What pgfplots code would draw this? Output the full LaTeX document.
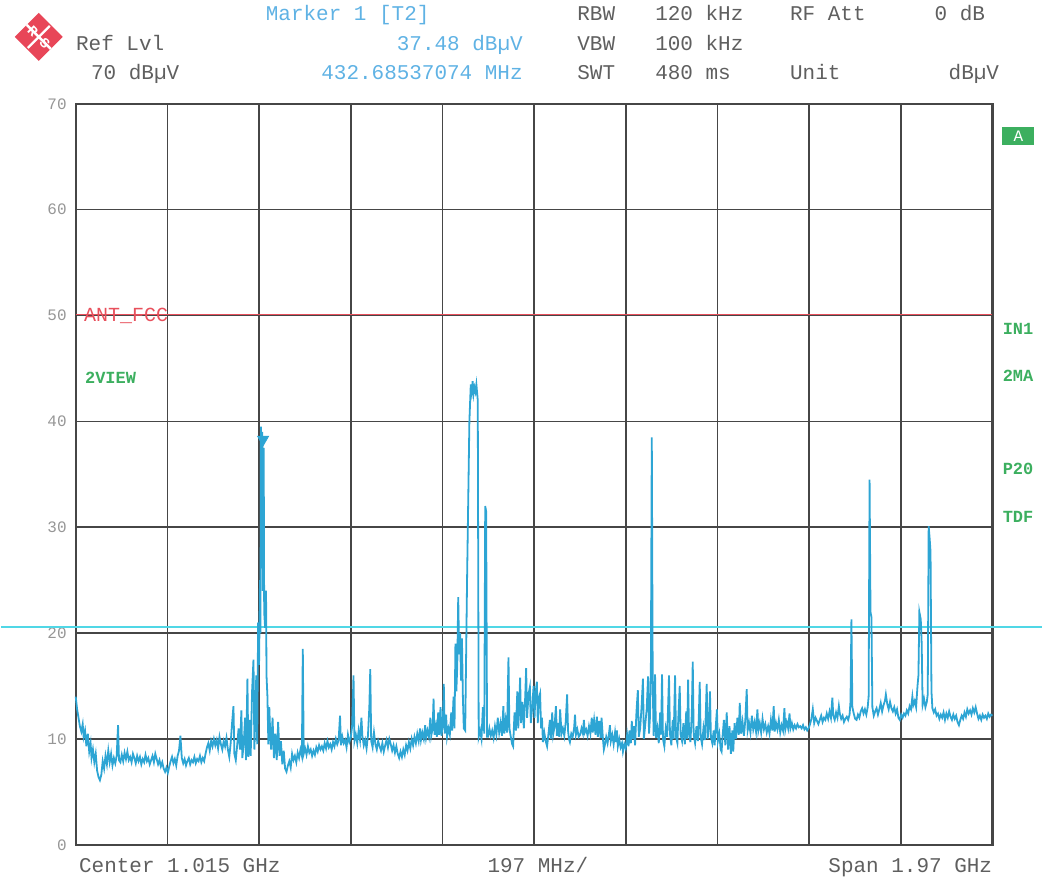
\documentclass[border=0pt]{standalone}
\usepackage{fontspec}
\setmainfont{Liberation Mono}
\usepackage{pgfplots}
\pgfplotsset{compat=1.18}

\definecolor{trace}{RGB}{45,165,212}
\definecolor{cyanline}{RGB}{80,215,230}
\definecolor{limitred}{RGB}{232,80,92}
\definecolor{gridgray}{RGB}{70,70,70}
\definecolor{labgray}{RGB}{95,95,95}
\definecolor{tickgray}{RGB}{150,150,150}
\definecolor{mkblue}{RGB}{95,178,228}
\definecolor{rsgreen}{RGB}{60,175,95}
\definecolor{rsred}{RGB}{232,70,88}

\begin{document}
\begin{tikzpicture}
\path (0,0) rectangle (521.5pt,441.5pt);

\begin{axis}[
set layers,
at={(37.5pt,18.5pt)}, anchor=south west,
width=459pt, height=371pt, scale only axis,
xmin=30, xmax=2000, ymin=0, ymax=70,
xtick={30,227,424,621,818,1015,1212,1409,1606,1803,2000},
xticklabels={},
ytick={0,10,20,30,40,50,60,70},
grid=major,
major grid style={gridgray, line width=0.8pt},
axis line style={gridgray, line width=1.1pt},
tick style={draw=none},
yticklabel style={font=\fontsize{8}{9}\selectfont, text=tickgray, xshift=-1pt},
/pgf/number format/assume math mode=true,
clip=false
]
% limit line
\addplot [limitred, line width=0.9pt] coordinates {(30,50.1) (2000,50.1)};
% display line
\addplot [cyanline, line width=0.8pt] coordinates {(-131,20.6) (2107,20.6)};
% trace
\addplot [trace, line width=0.9pt] table {
30 14.0
33 12.8
36 12.0
39 11.2
42 10.7
45 11.4
47 10.2
50 10.8
53 9.3
56 10.5
59 8.8
62 9.6
64 8.2
67 9.0
70 7.8
73 8.6
76 7.0
79 6.4
82 6.1
85 6.6
88 7.9
91 7.2
94 8.4
97 7.6
100 8.9
103 7.8
106 8.6
109 7.5
112 8.2
115 7.7
118 8.4
121 11.3
123 8.0
126 7.8
129 8.5
132 7.9
135 8.7
138 8.1
141 8.8
144 8.0
147 8.3
150 7.8
153 8.6
156 8.2
159 7.7
162 8.4
165 7.9
168 8.3
171 7.6
174 8.1
177 7.8
180 8.5
183 7.9
186 8.2
189 7.6
192 8.0
195 8.4
198 7.8
201 8.6
204 8.1
207 7.6
210 8.0
213 7.4
216 7.8
219 7.2
222 6.9
225 7.3
228 6.8
231 7.4
234 7.9
237 8.3
240 7.7
243 8.1
246 7.5
249 8.4
252 8.9
255 10.3
258 8.2
261 7.7
264 8.1
267 7.5
270 7.9
273 8.2
276 7.6
279 8.0
282 7.8
285 8.3
288 7.7
291 8.1
294 7.9
297 8.4
300 7.8
303 8.2
306 7.9
309 8.6
312 9.2
315 9.6
318 8.9
321 9.8
324 9.3
327 10.0
330 9.4
333 9.9
336 9.1
339 10.2
342 9.5
345 9.0
348 9.8
351 9.3
354 10.1
357 9.0
360 8.3
363 9.6
366 11.5
369 13.1
371 8.6
374 8.0
377 9.4
380 11.0
383 9.0
386 12.7
388 8.2
391 9.5
394 12.0
396 8.0
399 15.7
401 8.3
404 11.8
406 8.4
409 14.5
412 17.5
414 9.0
416 12.5
418 16.0
420 9.5
422 21.0
424 17.0
426 25.0
427 20.0
428 39.5
429 30.0
431 39.0
432 24.0
434 37.5
435 22.0
437 20.5
439 24.0
440 16.0
442 14.0
444 9.5
446 13.0
448 10.5
450 9.0
453 12.0
456 8.2
459 10.5
462 8.0
465 11.6
468 8.4
471 9.8
474 7.6
477 8.9
480 7.2
483 6.9
486 7.5
489 7.9
492 7.3
495 8.6
498 8.0
501 8.4
504 7.8
507 8.7
510 8.2
513 9.0
516 8.4
518 18.5
520 8.6
523 9.1
526 8.5
529 9.3
532 8.7
535 9.0
538 8.4
541 8.9
544 8.5
547 9.2
550 8.8
553 9.4
556 9.0
559 9.3
562 8.9
565 9.6
568 9.1
571 9.8
574 9.2
577 9.5
580 9.0
583 9.7
586 9.3
589 10.0
592 9.5
595 9.9
598 12.2
600 9.4
603 10.2
606 9.6
609 9.9
612 9.2
615 10.4
618 9.7
621 10.1
624 11.2
627 16.0
629 9.8
632 10.4
635 9.6
638 10.8
641 9.9
644 12.0
646 10.3
649 9.4
652 9.9
655 9.1
658 10.3
661 13.0
663 16.6
665 9.8
668 9.2
671 10.6
674 9.5
677 9.0
680 9.8
683 9.3
686 8.9
689 9.6
692 8.8
695 9.4
698 9.9
701 9.2
704 10.0
707 9.5
710 8.9
713 9.4
716 8.7
719 9.3
722 8.6
725 8.2
728 8.8
731 8.3
734 9.0
737 8.5
740 9.4
743 8.9
746 9.7
749 9.1
752 10.0
755 9.4
758 10.2
761 9.6
764 10.5
767 9.8
770 11.0
772 9.9
775 10.6
778 10.0
781 11.3
783 10.1
786 10.8
789 10.2
792 12.0
794 10.3
797 11.0
799 13.8
801 10.4
804 11.2
806 10.2
809 12.5
811 10.4
814 13.0
816 10.3
819 11.5
821 15.2
823 10.5
826 12.3
828 10.2
831 11.0
834 10.4
837 12.5
839 10.8
842 14.0
844 11.0
846 19.0
848 14.5
850 17.0
852 23.4
854 18.0
856 20.0
858 15.5
860 19.5
862 14.0
864 11.0
867 10.8
871 25.0
876 40.0
879 43.5
881 42.8
883 43.8
885 42.6
887 43.2
889 42.8
891 43.5
894 42.0
896 10.2
899 10.8
902 10.0
905 13.0
908 10.5
910 32.0
912 31.5
914 10.2
916 10.2
919 11.0
922 10.3
925 10.8
928 10.1
931 11.2
934 10.4
937 12.0
940 10.6
943 11.5
946 10.3
949 13.1
951 10.5
954 11.8
957 10.6
960 17.7
962 11.0
965 10.2
968 9.5
970 9.3
973 12.5
976 10.8
979 14.5
981 11.0
983 13.0
985 15.8
987 11.5
990 13.5
993 11.0
996 14.0
998 16.7
1000 12.0
1003 14.2
1006 14.9
1008 11.5
1011 13.0
1014 15.0
1016 12.0
1018 14.2
1021 15.4
1023 11.5
1025 13.8
1028 14.3
1030 11.0
1032 12.0
1034 9.7
1037 10.6
1040 9.8
1043 9.3
1046 10.5
1049 11.8
1051 10.0
1054 12.5
1056 10.4
1059 11.2
1062 13.1
1064 10.3
1067 11.5
1069 10.2
1071 12.8
1074 10.5
1077 11.0
1080 10.3
1083 11.6
1086 14.2
1088 10.8
1090 10.0
1092 9.7
1095 10.5
1098 10.2
1101 11.0
1103 12.3
1105 10.4
1108 10.9
1111 10.2
1114 10.4
1117 11.0
1120 10.5
1122 11.8
1124 10.6
1127 10.9
1130 10.3
1133 11.2
1136 10.5
1139 12.0
1141 10.6
1144 11.8
1147 10.4
1150 12.1
1152 10.2
1155 11.7
1158 10.1
1160 12.0
1163 10.0
1165 9.0
1167 9.4
1170 10.2
1173 9.6
1176 10.5
1178 11.3
1180 9.8
1183 10.4
1186 9.5
1189 10.6
1191 9.7
1193 10.8
1195 9.3
1198 10.0
1201 9.2
1204 9.6
1206 8.8
1209 9.5
1212 9.1
1215 10.4
1218 9.3
1220 10.8
1223 9.6
1225 11.7
1227 10.0
1230 11.2
1232 9.4
1235 12.5
1238 14.6
1240 10.2
1243 11.0
1246 13.0
1249 15.7
1251 10.0
1254 11.4
1257 12.8
1260 15.9
1262 10.5
1264 12.0
1266 16.5
1268 38.5
1270 15.0
1272 10.3
1275 16.1
1277 10.1
1280 11.0
1283 9.6
1286 12.5
1288 10.4
1290 16.1
1292 10.0
1295 9.3
1298 11.0
1301 10.2
1303 13.0
1305 16.0
1307 10.5
1310 9.4
1313 11.8
1315 10.0
1318 16.0
1320 10.2
1323 9.6
1325 12.0
1328 15.0
1330 10.4
1333 9.8
1336 11.5
1339 9.5
1342 12.6
1344 10.0
1346 15.6
1348 10.6
1351 9.7
1354 12.4
1356 17.3
1358 10.4
1361 9.6
1364 11.2
1367 9.8
1369 12.0
1371 15.4
1373 10.2
1376 9.5
1379 11.0
1382 9.9
1384 12.3
1386 15.2
1388 10.0
1391 11.3
1393 14.5
1395 10.2
1398 9.6
1401 10.8
1403 9.4
1406 11.5
1408 12.8
1410 9.8
1413 10.5
1416 9.0
1418 8.8
1420 10.2
1423 11.8
1426 9.4
1429 12.5
1432 9.0
1435 11.2
1438 8.6
1441 10.8
1443 8.8
1446 11.5
1449 10.0
1452 12.0
1455 10.4
1457 13.4
1460 10.5
1463 11.6
1466 10.3
1469 11.8
1472 14.7
1474 10.8
1477 11.5
1480 10.6
1483 12.2
1486 10.9
1489 11.6
1492 10.7
1495 12.8
1497 10.8
1500 11.5
1503 10.6
1506 11.9
1509 10.9
1512 11.4
1515 10.6
1518 11.2
1521 10.5
1524 11.8
1527 10.8
1530 13.1
1532 10.7
1535 11.5
1538 10.9
1541 11.8
1544 10.6
1547 11.3
1550 10.8
1553 12.9
1555 10.9
1558 11.6
1561 11.0
1564 12.4
1566 11.0
1569 11.5
1572 10.9
1575 11.3
1578 11.0
1581 11.4
1584 11.1
1587 11.2
1590 11.0
1593 11.3
1596 10.9
1599 11.1
1602 10.8
1605 11.0
1608 11.4
1611 11.9
1614 12.8
1617 11.5
1620 12.0
1623 11.7
1626 11.4
1629 11.8
1632 12.2
1635 11.6
1638 12.0
1641 11.8
1644 12.4
1647 11.9
1650 12.6
1653 12.0
1656 13.9
1658 12.2
1661 11.8
1664 12.5
1667 12.0
1670 13.1
1672 12.4
1675 11.9
1678 12.2
1681 11.6
1684 11.9
1687 12.1
1690 11.8
1693 12.3
1695 13.5
1697 21.3
1699 13.0
1702 12.4
1705 11.9
1708 11.8
1711 12.3
1714 12.0
1717 12.6
1720 12.9
1723 12.4
1726 12.8
1729 12.3
1732 13.0
1734 14.0
1736 34.5
1738 22.0
1740 21.5
1742 13.0
1745 12.2
1748 12.6
1751 12.9
1754 12.3
1757 12.8
1760 13.4
1763 12.6
1766 13.2
1769 13.6
1771 14.2
1774 13.3
1777 12.8
1780 13.5
1783 12.9
1786 12.6
1789 13.0
1792 12.4
1795 12.8
1798 12.0
1801 11.8
1804 12.3
1807 12.0
1810 12.4
1813 12.2
1816 12.7
1819 12.4
1822 13.1
1825 12.8
1828 14.0
1830 13.2
1833 13.6
1836 13.0
1839 15.0
1841 16.0
1843 22.0
1846 21.3
1848 19.0
1850 13.2
1853 13.8
1856 13.0
1859 13.5
1861 14.2
1863 30.1
1865 29.0
1867 27.7
1869 14.5
1871 12.9
1874 12.5
1877 12.8
1880 12.2
1883 12.4
1886 11.9
1889 12.3
1892 12.0
1895 12.5
1898 11.8
1901 12.4
1904 12.0
1907 12.6
1910 12.1
1913 11.8
1916 12.3
1919 11.9
1922 12.2
1925 11.6
1928 11.3
1931 11.8
1934 12.2
1937 11.9
1940 12.5
1943 12.1
1946 12.8
1949 12.4
1952 12.7
1955 12.3
1958 12.9
1961 12.5
1964 13.0
1967 12.4
1970 11.9
1973 12.2
1976 11.8
1979 12.3
1982 12.0
1985 12.2
1988 11.9
1991 12.4
1994 12.1
1997 12.3
2000 12.2
};
% marker 1
\addplot [only marks, mark=triangle*, mark size=3.2pt, color=trace,
  mark options={rotate=180}] coordinates {(432.685,38.3)};
\end{axis}

% annotations in pixel units (origin top left)
\begin{scope}[x=0.5pt, y=-0.5pt, shift={(0pt,441.5pt)},
  every node/.style={font=\fontsize{10.5}{12}\selectfont, inner sep=0pt}]
% R&S logo
\fill[rsred] (38,13) -- (62,37) -- (38,61) -- (14,37) -- cycle;
\draw[white, line width=1.2pt] (26,25) -- (50,49);
\draw[white, line width=1.2pt] (27,48) -- (49,26);
\node[white, font=\fontsize{7}{7}\selectfont\bfseries, rotate=-45] at (32,31) {R};
\node[white, font=\fontsize{7}{7}\selectfont\bfseries, rotate=-45] at (44,43) {S};
% header
\node[anchor=base west, text=mkblue] at (265,21) {Marker 1 [T2]};
\node[anchor=base west, text=labgray] at (75,51) {Ref Lvl};
\node[anchor=base east, text=mkblue] at (523,51) {37.48 dBµV};
\node[anchor=base west, text=labgray] at (90,80) {70 dBµV};
\node[anchor=base east, text=mkblue] at (523,80) {432.68537074 MHz};
\node[anchor=base west, text=labgray] at (577,21) {RBW};
\node[anchor=base west, text=labgray] at (655,21) {120 kHz};
\node[anchor=base west, text=labgray] at (790,21) {RF Att};
\node[anchor=base east, text=labgray] at (986,21) {0 dB};
\node[anchor=base west, text=labgray] at (577,51) {VBW};
\node[anchor=base west, text=labgray] at (655,51) {100 kHz};
\node[anchor=base west, text=labgray] at (577,80) {SWT};
\node[anchor=base west, text=labgray] at (655,80) {480 ms};
\node[anchor=base west, text=labgray] at (790,80) {Unit};
\node[anchor=base east, text=labgray] at (1000,80) {dBµV};
% footer
\node[anchor=base west, text=labgray] at (78,874) {Center 1.015 GHz};
\node[anchor=base west, text=labgray] at (487,874) {197 MHz/};
\node[anchor=base east, text=labgray] at (993,874) {Span 1.97 GHz};
% limit line label
\node[anchor=west, text=limitred, font=\fontsize{10}{12}\selectfont] at (83,316) {ANT\_FCC};
% green side labels
\node[anchor=west, text=rsgreen, font=\fontsize{8.5}{10}\selectfont\bfseries] at (84,378) {2VIEW};
\node[fill=rsgreen, text=white, minimum width=16pt, minimum height=9pt,
  font=\fontsize{8}{9}\selectfont] at (1019,136) {A};
\node[anchor=west, text=rsgreen, font=\fontsize{8.5}{10}\selectfont\bfseries] at (1003,329) {IN1};
\node[anchor=west, text=rsgreen, font=\fontsize{8.5}{10}\selectfont\bfseries] at (1003,376) {2MA};
\node[anchor=west, text=rsgreen, font=\fontsize{8.5}{10}\selectfont\bfseries] at (1003,470) {P20};
\node[anchor=west, text=rsgreen, font=\fontsize{8.5}{10}\selectfont\bfseries] at (1003,518) {TDF};
\end{scope}
\end{tikzpicture}
\end{document}
